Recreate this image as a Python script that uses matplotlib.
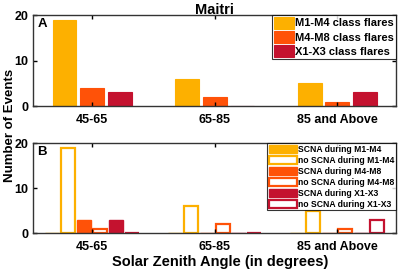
import matplotlib
matplotlib.use("Agg")
import matplotlib.pyplot as plt
import numpy as np

plt.rcParams["font.family"] = ["Liberation Sans", "DejaVu Sans"]
plt.rcParams["font.weight"] = "bold"

groups = ["45-65", "65-85", "85 and Above"]
colors = ["#FDB000", "#FF5208", "#C4122F"]

# panel A: all events per class
flares_labels = ["M1-M4 class flares", "M4-M8 class flares", "X1-X3 class flares"]
m1_m4 = [19, 6, 5]
m4_m8 = [4, 2, 1]
x1_x3 = [3, 0, 3]

# panel B: split by SCNA occurrence
scna_m1_m4 = [0, 0, 0]
no_scna_m1_m4 = [19, 6, 5]
scna_m4_m8 = [3, 0, 0]
no_scna_m4_m8 = [1, 2, 1]
scna_x1_x3 = [3, 0, 0]
no_scna_x1_x3 = [0, 0, 3]
split_labels = ["SCNA during M1-M4", "no SCNA during M1-M4",
                "SCNA during M4-M8", "no SCNA during M4-M8",
                "SCNA during X1-X3", "no SCNA during X1-X3"]

x = np.arange(1, len(groups) + 1)

fig = plt.figure(figsize=(4, 2.7), dpi=100)
ax1 = fig.add_axes([0.083, 0.607, 0.907, 0.337])
ax2 = fig.add_axes([0.083, 0.137, 0.907, 0.333])


def style(ax, letter):
    ax.set_xlim(0.52, 3.48)
    ax.set_ylim(0, 20)
    ax.set_yticks([0, 10, 20])
    ax.set_xticks(x)
    ax.set_xticklabels(groups)
    ax.tick_params(direction="in", top=True, right=True, labelsize=9,
                   length=3, width=1)
    ax.tick_params(axis="x", pad=6)
    for s in ax.spines.values():
        s.set_linewidth(1)
        s.set_color("#333333")
    ax.text(0.012, 0.97, letter, transform=ax.transAxes, ha="left", va="top",
            fontsize=9.5, fontweight="bold")


# panel A
w = 0.195
off = 0.225
for i, (vals, c, lab) in enumerate(zip([m1_m4, m4_m8, x1_x3], colors, flares_labels)):
    ax1.bar(x + (i - 1) * off, vals, width=w, color=c, edgecolor=c,
            linewidth=0.8, label=lab)
style(ax1, "A")
leg = ax1.legend(loc="upper right", fontsize=8, frameon=True, fancybox=False,
                 edgecolor="black", handlelength=1.8, handleheight=1.25,
                 borderpad=0.15, labelspacing=0.22, handletextpad=0.15,
                 borderaxespad=0.0)
leg.get_frame().set_linewidth(0.8)
ax1.set_title("Maitri", fontsize=10.5, fontweight="bold", pad=1)

# panel B
wb = 0.115
offb = 0.13
series = [scna_m1_m4, no_scna_m1_m4, scna_m4_m8, no_scna_m4_m8, scna_x1_x3, no_scna_x1_x3]
for i, (vals, lab) in enumerate(zip(series, split_labels)):
    c = colors[i // 2]
    pos = x + (i - 2.5) * offb
    if i % 2 == 0:
        ax2.bar(pos, vals, width=wb, color=c, edgecolor=c, linewidth=1.0, label=lab)
    else:
        ax2.bar(pos, vals, width=wb, color="white", edgecolor=c, linewidth=1.6,
                label=lab)
style(ax2, "B")
leg2 = ax2.legend(loc="upper right", fontsize=6.2, frameon=True, fancybox=False,
                  edgecolor="black", handlelength=3.2, handleheight=1.1,
                  borderpad=0.2, labelspacing=0.22, handletextpad=0.15,
                  borderaxespad=0.0)
leg2.get_frame().set_linewidth(0.8)

fig.text(0.55, 0.03, "Solar Zenith Angle (in degrees)", ha="center", va="center",
         fontsize=10.5, fontweight="bold")
fig.text(0.024, 0.535, "Number of Events", rotation=90, ha="center", va="center",
         fontsize=9.5, fontweight="bold")

fig.savefig("out.png", dpi=100)
